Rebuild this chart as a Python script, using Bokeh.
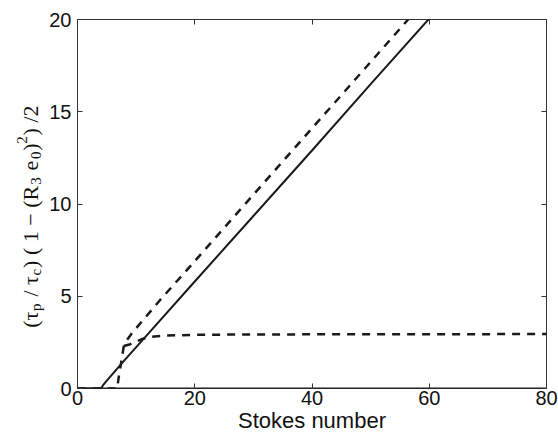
import math
from bokeh.plotting import figure
from bokeh.models import LinearAxis, FixedTicker, Range1d
from bokeh.layouts import row
from bokeh.embed import file_html
from bokeh.resources import INLINE

# ---- data ----
x_ticks = [0, 20, 40, 60, 80]
y_ticks = [0, 5, 10, 15, 20]

# zero solution (solid, along the axis)
zero_x = [0, 80]
zero_y = [0, 0]

# solid branch
solid_x = [0, 4.0, 4.3, 5, 8, 12, 20, 30, 40, 50, 60, 80]
solid_y = [0, 0, 0.15, 0.43, 1.52, 2.95, 5.8, 9.35, 12.9, 16.5, 20.05, 27.2]

# dashed branch: zero, steep unstable part, upper branch
dash_up_x = [0, 6.8, 6.9, 7.0, 7.2, 7.5, 7.9, 8.5, 9.3, 11.3, 14.1, 20, 28.6, 40, 56.4, 80]
dash_up_y = [0, 0, 0.3, 0.55, 0.95, 1.5, 2.3, 2.65, 3.0, 3.75, 4.8, 6.9, 10.0, 14.1, 20.0, 28.5]

# dashed branch: plateau
dash_pl_x = [7.9, 9.0, 9.9, 11.0, 12.5, 15, 20, 30, 50, 80]
dash_pl_y = [2.3, 2.4, 2.52, 2.68, 2.8, 2.87, 2.91, 2.93, 2.94, 2.95]

x_label = "Stokes number"
# y label pieces: (text, kind) kind = n (normal), sub, sup
y_label_pieces = [("(τ", "n"), ("p", "sub"), (" / τ", "n"), ("c", "sub"), (") ( 1 − (R", "n"),
                  ("3", "sub"), (" e", "n"), ("0", "sub"), (")", "n"), ("2", "sup"), (") /2", "n")]

FONT = "Liberation Sans"
TXT = "#111111"
LINE = "#1a1a1a"
FRAME = "#333333"

W_TOTAL, H_TOTAL = 558, 435
STRIP = 46
TOP, BOTTOM = 19, 47

# ---------------- main plot ----------------
p = figure(width=W_TOTAL - STRIP, height=H_TOTAL, output_backend="svg", toolbar_location=None,
           x_range=Range1d(0, 80), y_range=Range1d(0, 20),
           min_border_left=77 - STRIP, min_border_right=12, min_border_top=TOP, min_border_bottom=BOTTOM)
p.grid.visible = False
p.background_fill_color = "white"
p.border_fill_color = "white"
p.outline_line_color = FRAME
p.outline_line_width = 1

for ax in (p.xaxis[0], p.yaxis[0]):
    ax.major_tick_in = 5
    ax.major_tick_out = 0
    ax.minor_tick_line_color = None
    ax.axis_line_color = None
    ax.major_tick_line_color = FRAME
    ax.major_label_text_font = FONT
    ax.major_label_text_font_size = "20px"
    ax.major_label_text_color = TXT
p.xaxis[0].ticker = FixedTicker(ticks=x_ticks)
p.yaxis[0].ticker = FixedTicker(ticks=y_ticks)
p.xaxis[0].major_label_standoff = 2
p.xaxis[0].major_label_text_line_height = 1.0
p.yaxis[0].major_label_standoff = 6
p.xaxis[0].axis_label = x_label
p.xaxis[0].axis_label_text_font = FONT
p.xaxis[0].axis_label_text_font_size = "22px"
p.xaxis[0].axis_label_text_font_style = "normal"
p.xaxis[0].axis_label_text_color = TXT
p.xaxis[0].axis_label_text_line_height = 1.0
p.xaxis[0].axis_label_standoff = 0

top = LinearAxis(ticker=FixedTicker(ticks=x_ticks), major_tick_in=5, major_tick_out=0,
                 minor_tick_line_color=None, axis_line_color=None, major_tick_line_color=FRAME,
                 major_label_text_font_size="1px", major_label_standoff=0,
                 major_label_overrides={t: "" for t in x_ticks})
right = LinearAxis(ticker=FixedTicker(ticks=y_ticks), major_tick_in=5, major_tick_out=0,
                   minor_tick_line_color=None, axis_line_color=None, major_tick_line_color=FRAME,
                   major_label_text_font_size="1px", major_label_standoff=0,
                   major_label_overrides={t: "" for t in y_ticks})
p.add_layout(top, "above")
p.add_layout(right, "right")

p.line(dash_up_x, dash_up_y, line_color=LINE, line_width=2.5, line_dash="8 7")
p.line(dash_pl_x, dash_pl_y, line_color=LINE, line_width=2.5, line_dash="8 7")
p.line(zero_x, zero_y, line_color=LINE, line_width=2.2)
p.line(solid_x, solid_y, line_color=LINE, line_width=2)

# ---------------- left strip holding the y label (pixel coordinates) ----------------
# its frame spans the same rows as the main frame; y data = pixels from the page bottom
s = figure(width=STRIP, height=H_TOTAL, output_backend="svg", toolbar_location=None,
           x_range=Range1d(0, STRIP), y_range=Range1d(BOTTOM, H_TOTAL - TOP),
           x_axis_location=None, y_axis_location=None,
           min_border_left=0, min_border_right=0, min_border_top=TOP, min_border_bottom=BOTTOM)
s.grid.visible = False
s.outline_line_color = None
s.background_fill_color = "white"
s.border_fill_color = "white"

W = {"(": 0.333, ")": 0.333, " ": 0.278, "/": 0.278, "τ": 0.47, "1": 0.556, "−": 0.584,
     "R": 0.722, "e": 0.556, "2": 0.556, "p": 0.556, "c": 0.5, "3": 0.556, "0": 0.556}
MAIN, SMALL = 22, 15
sizes = {"n": MAIN, "sub": SMALL, "sup": SMALL}
shift = {"n": 0, "sub": 5, "sup": -9}
tight = {"n": 0.95, "sub": 1.0, "sup": 1.0}
widths = [sum(W[c] for c in t) * sizes[k] * tight[k] for t, k in y_label_pieces]
total = sum(widths)
center_up = H_TOTAL - 216     # centre of the label, measured from the bottom
base_x = 30
pos = center_up - total / 2
for (t, k), w in zip(y_label_pieces, widths):
    lead = len(t) - len(t.lstrip(" "))
    shown = t.strip(" ")
    s.text(x=[base_x + shift[k]], y=[pos + lead * W[" "] * sizes[k]], text=[shown],
           angle=math.pi / 2, text_font=FONT, text_font_size=f"{sizes[k]}px", text_color=TXT,
           text_align="left", text_baseline="alphabetic")
    pos += w

layout = row(s, p, spacing=0)
open("out.html", "w").write(file_html(layout, INLINE))
